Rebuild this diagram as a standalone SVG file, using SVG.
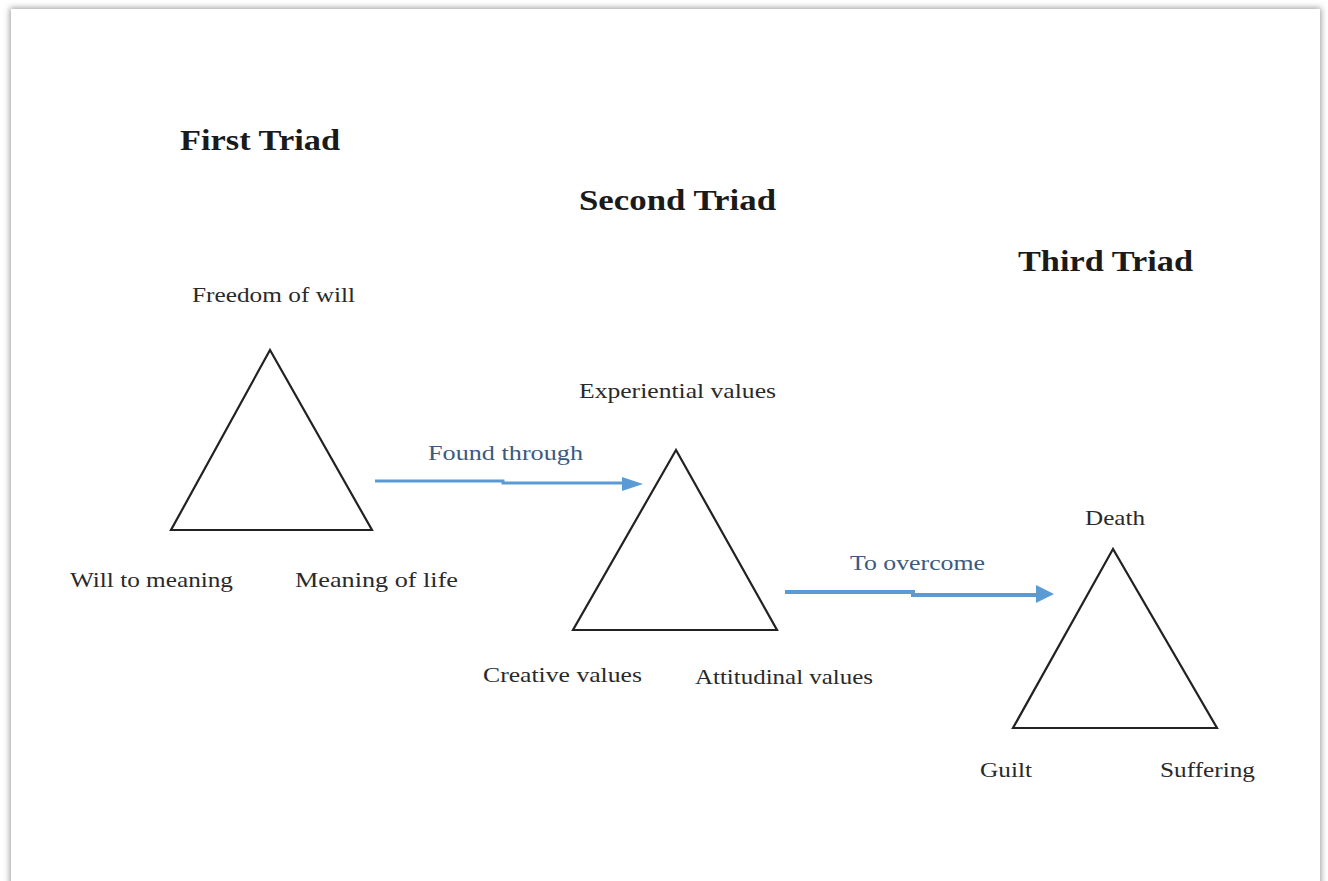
<svg xmlns="http://www.w3.org/2000/svg" width="1328" height="881" viewBox="0 0 1328 881">
<defs>
<filter id="sh" x="-5%" y="-5%" width="110%" height="110%">
<feGaussianBlur stdDeviation="3"/>
</filter>
<marker id="ah" markerWidth="6" markerHeight="6" refX="5" refY="3" orient="auto" markerUnits="strokeWidth">
<path d="M0,0 L6,3 L0,6 Z" fill="#5b9bd5"/>
</marker>
</defs>
<style>
.tri{fill:none;stroke:#222;stroke-width:2.2;stroke-linejoin:miter}
.h{font-family:"Liberation Serif","Times New Roman",serif;font-weight:bold;font-size:30px;fill:#1a1a1a}
.l{font-family:"Liberation Serif","Times New Roman",serif;font-size:22px;fill:#2a2a2a}
.b{font-family:"Liberation Serif","Times New Roman",serif;font-size:22px;fill:#3a5a80}
.ar{fill:none;stroke:#5b9bd5}
</style>
<rect width="1328" height="881" fill="#ffffff"/>
<rect x="10" y="8" width="1311" height="880" fill="#999" filter="url(#sh)"/>
<rect x="11" y="9" width="1309" height="880" fill="#ffffff"/>
<g id="headings">
<text class="h" x="180" y="150" textLength="160" lengthAdjust="spacingAndGlyphs">First Triad</text>
<text class="h" x="579" y="210" textLength="197" lengthAdjust="spacingAndGlyphs">Second Triad</text>
<text class="h" x="1018" y="271" textLength="175" lengthAdjust="spacingAndGlyphs">Third Triad</text>
</g>
<g id="triad1">
<polygon class="tri" points="270,350 171,530 372,530"/>
<text class="l" x="192" y="302" textLength="163" lengthAdjust="spacingAndGlyphs">Freedom of will</text>
<text class="l" x="70" y="587" textLength="163" lengthAdjust="spacingAndGlyphs">Will to meaning</text>
<text class="l" x="295" y="587" textLength="163" lengthAdjust="spacingAndGlyphs">Meaning of life</text>
</g>
<g id="triad2">
<polygon class="tri" points="676,450 573,630 777,630"/>
<text class="l" x="579" y="398" textLength="197" lengthAdjust="spacingAndGlyphs">Experiential values</text>
<text class="l" x="483" y="682" textLength="159" lengthAdjust="spacingAndGlyphs">Creative values</text>
<text class="l" x="695" y="684" textLength="178" lengthAdjust="spacingAndGlyphs">Attitudinal values</text>
</g>
<g id="triad3">
<polygon class="tri" points="1113,549 1013,728 1217,728"/>
<text class="l" x="1085" y="525" textLength="60" lengthAdjust="spacingAndGlyphs">Death</text>
<text class="l" x="980" y="777" textLength="52" lengthAdjust="spacingAndGlyphs">Guilt</text>
<text class="l" x="1160" y="777" textLength="95" lengthAdjust="spacingAndGlyphs">Suffering</text>
</g>
<g id="connectors">
<path class="ar" stroke-width="3" d="M375,481 L503,481 L503,483 L626,483"/>
<polygon points="622,477 643,484 622,491" fill="#5b9bd5"/>
<text class="b" x="428" y="460" textLength="155" lengthAdjust="spacingAndGlyphs">Found through</text>
<path class="ar" stroke-width="4" d="M785,592 L913,592 L913,595 L1038,595"/>
<polygon points="1036,585 1054,594 1036,603" fill="#5b9bd5"/>
<text class="b" x="850" y="570" textLength="135" lengthAdjust="spacingAndGlyphs">To overcome</text>
</g>
</svg>
